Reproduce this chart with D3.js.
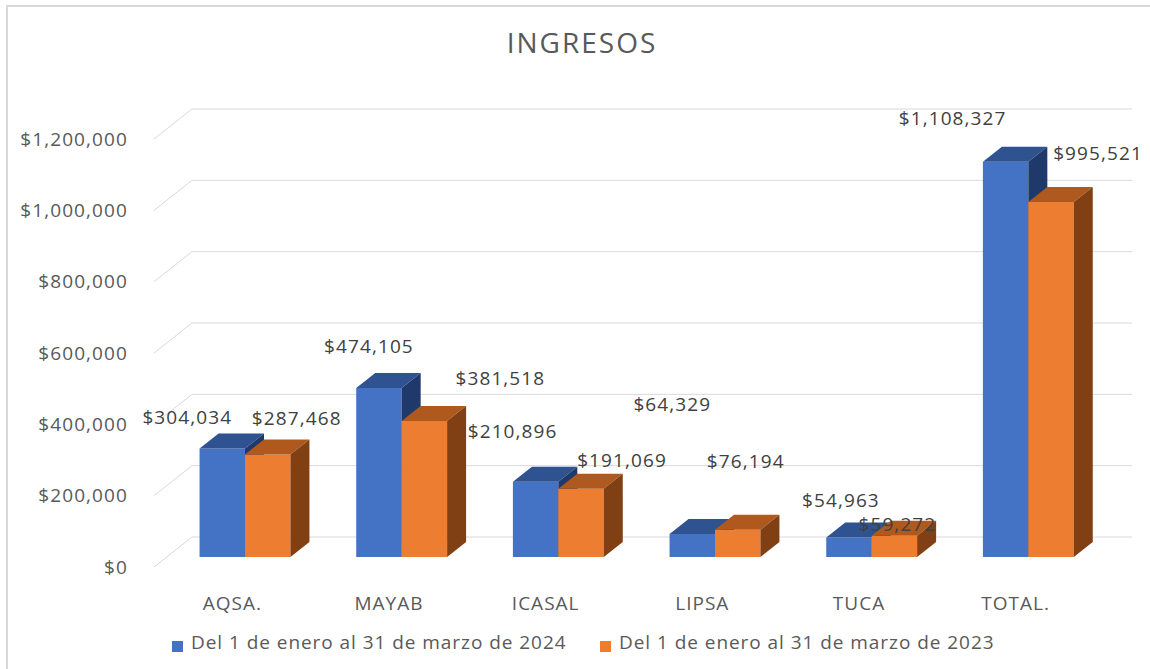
<!DOCTYPE html>
<html>
<head>
<meta charset="utf-8">
<script src="https://cdn.jsdelivr.net/npm/d3@7"></script>
<style>
  html, body { margin: 0; padding: 0; background: #fff; }
  svg { display: block; font-family: "Open Sans", sans-serif; }
</style>
</head>
<body>
<svg id="chart" width="1150" height="669"></svg>
<script>
// ---- data ----
const categories = ["AQSA.", "MAYAB", "ICASAL", "LIPSA", "TUCA", "TOTAL."];
const seriesNames = ["Del 1 de enero al 31 de marzo de 2024", "Del 1 de enero al 31 de marzo de 2023"];
const values2024 = [304034, 474105, 210896, 64329, 54963, 1108327];
const values2023 = [287468, 381518, 191069, 76194, 59272, 995521];
const yTicks = [0, 200000, 400000, 600000, 800000, 1000000, 1200000];

// ---- layout (label nudges relative to each bar's top, as placed in the original) ----
const labelNudge2024 = [[-35, -31], [-10, -42], [-23, -50], [-20, -130], [-8, -37], [-53, -43]];
const labelNudge2023 = [[29, -36], [76, -43], [41, -29], [8, -68], [3, -12], [47, -49]];

const svg = d3.select("#chart");
const W = 1150, H = 669;

const colors = {
  front: ["#4472C4", "#ED7D31"],
  top:   ["#2F5291", "#B0591F"],
  side:  ["#1F3A6A", "#813F14"]
};

// chart border
svg.append("path")
  .attr("d", `M7,${H + 5} L7,6 L${W + 5},6`)
  .attr("fill", "none").attr("stroke", "#d9d9d9").attr("stroke-width", 2);

// 3D projection parameters
const DX = 38, DY = 30;          // wall depth offset
const d1 = 1 / 3, d2 = 5 / 6;     // bar depth range (fraction of floor depth)

const x = d3.scaleBand().domain(categories).range([154, 1094]).paddingInner(0.42).paddingOuter(0.21);
const xs = d3.scaleBand().domain([0, 1]).range([0, x.bandwidth()]);
const y = d3.scaleLinear().domain([0, 1200000]).range([567, 139]);

const P = (px, v, d) => [px + d * DX, y(v) - d * DY];

// gridlines: left wall diagonal + back wall horizontal
const grid = svg.append("g").attr("stroke", "#d9d9d9").attr("stroke-width", 1).attr("fill", "none");
yTicks.forEach(t => {
  const a = P(x.range()[0], t, 0), b = P(x.range()[0], t, 1), c = P(x.range()[1], t, 1);
  grid.append("path").attr("d", `M${a[0]},${a[1]} L${b[0]},${b[1]} L${c[0]},${c[1]}`);
});

// y tick labels
const fmt = v => "$" + d3.format(",")(v);
svg.append("g").selectAll("text").data(yTicks).join("text")
  .attr("x", 128).attr("y", d => y(d)).attr("dy", "0.35em")
  .attr("text-anchor", "end").attr("fill", "#595959")
  .attr("font-size", 19).attr("letter-spacing", 1.1)
  .text(d => fmt(d));

// bars
const seriesValues = [values2024, values2023];
const bars = svg.append("g");
const poly = pts => "M" + pts.map(p => p.join(",")).join("L") + "Z";
categories.forEach((cat, i) => {
  [0, 1].forEach(s => {
    const v = seriesValues[s][i];
    const xl = x(cat) + xs(s), xr = xl + xs.bandwidth();
    // front
    bars.append("path").attr("fill", colors.front[s])
      .attr("d", poly([P(xl, v, d1), P(xr, v, d1), P(xr, 0, d1), P(xl, 0, d1)]));
    // top
    bars.append("path").attr("fill", colors.top[s])
      .attr("d", poly([P(xl, v, d1), P(xr, v, d1), P(xr, v, d2), P(xl, v, d2)]));
    // side
    bars.append("path").attr("fill", colors.side[s])
      .attr("d", poly([P(xr, v, d1), P(xr, v, d2), P(xr, 0, d2), P(xr, 0, d1)]));
  });
});

// data labels
const labels = svg.append("g").attr("fill", "#404040").attr("font-size", 19).attr("letter-spacing", 1.1)
  .attr("text-anchor", "middle");
const nudges = [labelNudge2024, labelNudge2023];
categories.forEach((cat, i) => {
  [0, 1].forEach(s => {
    const v = seriesValues[s][i];
    const cx = x(cat) + xs(s) + xs.bandwidth() / 2;
    const p = P(cx, v, d1);
    labels.append("text")
      .attr("x", p[0] + nudges[s][i][0]).attr("y", p[1] + nudges[s][i][1]).attr("dy", "0.35em")
      .text(fmt(v));
  });
});

// category labels
svg.append("g").selectAll("text").data(categories).join("text")
  .attr("x", d => x(d) + x.bandwidth() / 2).attr("y", 603).attr("dy", "0.35em")
  .attr("text-anchor", "middle").attr("fill", "#595959")
  .attr("font-size", 19).attr("letter-spacing", 1)
  .text(d => d);

// title
svg.append("text").attr("x", 582).attr("y", 43).attr("dy", "0.35em")
  .attr("text-anchor", "middle").attr("fill", "#595959")
  .attr("font-size", 28).attr("letter-spacing", 2)
  .text("INGRESOS");

// legend
const legendX = [172, 600];
const legend = svg.append("g");
seriesNames.forEach((name, s) => {
  legend.append("rect").attr("x", legendX[s]).attr("y", 641).attr("width", 11).attr("height", 11)
    .attr("fill", colors.front[s]);
  legend.append("text").attr("x", legendX[s] + 19).attr("y", 642).attr("dy", "0.35em")
    .attr("fill", "#595959").attr("font-size", 19).attr("letter-spacing", 0.95)
    .text(name);
});
</script>
</body>
</html>
